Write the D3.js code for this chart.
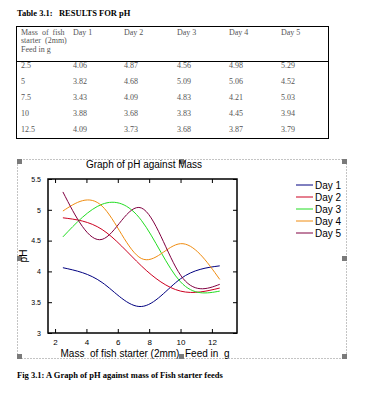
<!DOCTYPE html>
<html>
<head>
<meta charset="utf-8">
<script src="https://cdn.jsdelivr.net/npm/d3@7"></script>
<style>
  body { margin: 0; background: #fff; }
  svg { display: block; }
</style>
</head>
<body>
<div id="chart"></div>
<script>
// values from the table / graph
var masses = [2.5, 5, 7.5, 10, 12.5];
var massLabels = ["2.5", "5", "7.5", "10", "12.5"];
var dayNames = ["Day 1", "Day 2", "Day 3", "Day 4", "Day 5"];
var day1 = [4.06, 3.82, 3.43, 3.88, 4.09];
var day2 = [4.87, 4.68, 4.09, 3.68, 3.73];
var day3 = [4.56, 5.09, 4.83, 3.83, 3.68];
var day4 = [4.98, 5.06, 4.21, 4.45, 3.87];
var day5 = [5.29, 4.52, 5.03, 3.94, 3.79];
var xTicks = [2, 4, 6, 8, 10, 12];
var yTicks = [3, 3.5, 4, 4.5, 5, 5.5];

var days = [day1, day2, day3, day4, day5];
var colors = ["#000080", "#cc0020", "#22dd22", "#f08c10", "#800040"];

var svg = d3.select("#chart").append("svg").attr("width", 371).attr("height", 397);

// ---- table ----
svg.append("text").attr("x", 17).attr("y", 16).attr("xml:space", "preserve")
  .style("font-family", "Liberation Serif").style("font-weight", "bold").style("font-size", "8.5px")
  .text("Table 3.1:   RESULTS FOR pH");

svg.append("rect").attr("x", 16.5).attr("y", 26.5).attr("width", 312).attr("height", 112)
  .attr("fill", "none").attr("stroke", "#000").attr("stroke-width", 1);
svg.append("line").attr("x1", 16.5).attr("x2", 328.5).attr("y1", 61.5).attr("y2", 61.5)
  .attr("stroke", "#000");

var colX = [21, 73, 124, 177, 229, 281];
var tfont = function(s) {
  return s.style("font-family", "Liberation Serif").style("font-size", "8px").style("fill", "#555");
};
["Mass  of  fish", "starter  (2mm)", "Feed in g"].forEach(function(t, i) {
  tfont(svg.append("text").attr("x", 21).attr("y", 34.5 + i * 8.5).attr("xml:space", "preserve").text(t));
});
dayNames.forEach(function(d, i) {
  tfont(svg.append("text").attr("x", colX[i + 1]).attr("y", 34.5).text(d));
});
massLabels.forEach(function(m, r) {
  var y = 67.5 + r * 16;
  tfont(svg.append("text").attr("x", colX[0]).attr("y", y).text(m));
  days.forEach(function(d, i) {
    tfont(svg.append("text").attr("x", colX[i + 1]).attr("y", y).text(d[r].toFixed(2)));
  });
});

// ---- chart frame (dotted, with handles) ----
svg.append("rect").attr("x", 17.5).attr("y", 159.5).attr("width", 329).attr("height", 199)
  .attr("fill", "none").attr("stroke", "#888").attr("stroke-dasharray", "1,2");
[[17, 159], [179, 159], [342, 159], [17, 256], [342, 256], [17, 354], [179, 354], [342, 354]].forEach(function(p) {
  svg.append("rect").attr("x", p[0]).attr("y", p[1]).attr("width", 5).attr("height", 5).attr("fill", "#7a7a7a");
});

// ---- plot ----
var x = d3.scaleLinear().domain([1.55, 13.6]).range([48, 237]);
var y = d3.scaleLinear().domain([3, 5.5]).range([333, 179]);
var sans = "Liberation Sans, Arial, sans-serif";

svg.append("text").attr("x", 144).attr("y", 168).attr("text-anchor", "middle")
  .style("font-family", sans).style("font-size", "10px").text("Graph of pH against Mass");

var g = svg.append("g");
var line = d3.line().x(function(d, i) { return x(masses[i]); }).y(function(d) { return y(d); })
  .curve(d3.curveNatural);
days.forEach(function(d, i) {
  g.append("path").datum(d).attr("d", line).attr("fill", "none")
    .attr("stroke", colors[i]).attr("stroke-width", 1);
});

var ax = d3.axisBottom(x).tickValues(xTicks).tickSize(-4).tickPadding(6);
svg.append("g").attr("transform", "translate(0,333)").call(ax)
  .call(function(s) { s.select(".domain").remove(); })
  .selectAll("text").style("font-family", sans).style("font-size", "8px");
svg.append("g").attr("transform", "translate(0,179)").call(d3.axisTop(x).tickValues(xTicks).tickSize(-4).tickFormat(""))
  .call(function(s) { s.select(".domain").remove(); });
svg.append("g").attr("transform", "translate(48,0)")
  .call(d3.axisLeft(y).tickValues(yTicks).tickSize(-4).tickPadding(7).tickFormat(d3.format("")))
  .call(function(s) { s.select(".domain").remove(); })
  .selectAll("text").style("font-family", sans).style("font-size", "7px");
svg.append("g").attr("transform", "translate(237,0)")
  .call(d3.axisRight(y).tickValues(yTicks).tickSize(-4).tickFormat(""))
  .call(function(s) { s.select(".domain").remove(); });

svg.append("rect").attr("x", 48).attr("y", 179).attr("width", 189).attr("height", 154)
  .attr("fill", "none").attr("stroke", "#000").attr("stroke-width", 1.5);

svg.append("text").attr("x", 145).attr("y", 357).attr("text-anchor", "middle").attr("xml:space", "preserve")
  .style("font-family", sans).style("font-size", "10px").text("Mass  of fish starter (2mm)  Feed in  g");
svg.append("text").attr("transform", "translate(27,256) rotate(-90)").attr("text-anchor", "middle")
  .style("font-family", sans).style("font-size", "10px").text("pH");

// legend
dayNames.forEach(function(d, i) {
  var ly = 185 + i * 12;
  svg.append("line").attr("x1", 296).attr("x2", 313).attr("y1", ly).attr("y2", ly)
    .attr("stroke", colors[i]).attr("stroke-width", 1);
  svg.append("text").attr("x", 315).attr("y", ly + 3.5)
    .style("font-family", sans).style("font-size", "10px").text(d);
});

// caption
svg.append("text").attr("x", 17).attr("y", 378)
  .style("font-family", "Liberation Serif").style("font-weight", "bold").style("font-size", "8.5px")
  .text("Fig 3.1: A Graph of pH against mass of Fish starter feeds");
</script>
</body>
</html>
